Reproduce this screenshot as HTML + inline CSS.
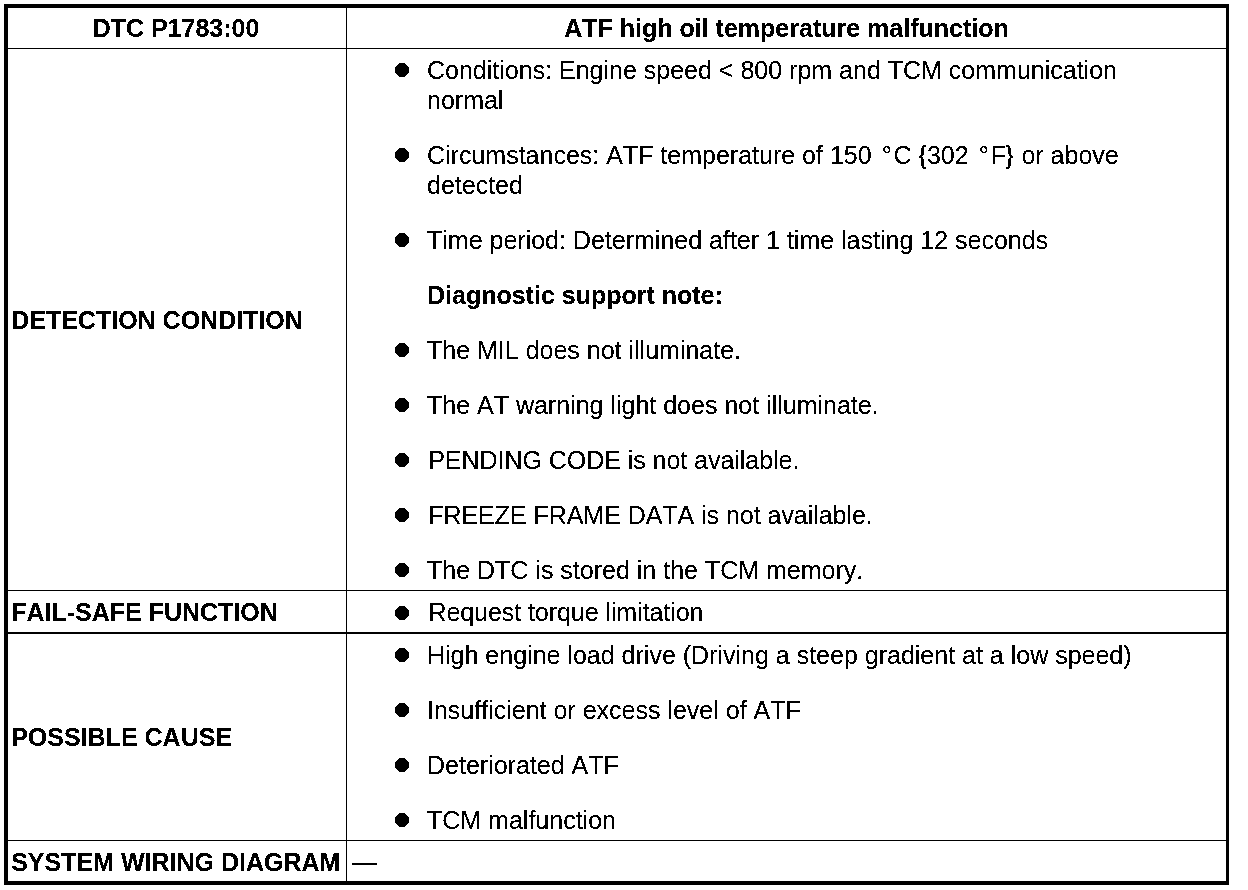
<!DOCTYPE html>
<html lang="en">
<head>
<meta charset="utf-8">
<title>DTC P1783:00</title>
<style>
html,body{margin:0;padding:0;background:#fff;}
body{width:1248px;height:890px;position:relative;overflow:hidden;color:#000;
  font-family:"Liberation Sans",Arial,Helvetica,sans-serif;font-size:25px;line-height:30px;
  font-kerning:none;font-variant-ligatures:none;}
.page{position:absolute;left:0;top:0;width:1248px;height:890px;background:#fff;filter:url(#thr);}
.frame{position:absolute;left:4px;top:4px;width:1218px;height:873px;border-style:solid;border-color:#000;border-width:4px 3px 4px 4px;}
.hl{position:absolute;left:8px;width:1218px;height:1px;background:#000;}
.vl{position:absolute;left:346px;top:8px;width:1px;height:873px;background:#000;}
.cell{position:absolute;margin:0;padding:0;white-space:nowrap;}
.th{font-weight:bold;text-align:center;transform:scaleY(1.055);transform-origin:0 24px;}
.lh{font-weight:bold;left:11.2px;}
ul{list-style:none;margin:0;padding:0;}
li{position:absolute;left:427px;margin:0;padding:0;white-space:nowrap;}
li.b::before{content:"";position:absolute;left:-31.8px;top:8.2px;width:13.6px;height:13.6px;border-radius:50%;background:#000;}
li.n{font-weight:bold;}
.ln{display:block;height:30px;}
.s1{margin-left:1.2px;letter-spacing:-0.04px;}
.s2{margin-left:1.4px;letter-spacing:-0.06px;}
li.fs::before{top:9.2px;}
.d1{margin:0 1.9px 0 3.15px;}
.d2{margin:0 1.9px 0 3.25px;}
.cb{margin:0 1px 0 -0.9px;}
</style>
</head>
<body>
<svg width="0" height="0" style="position:absolute" aria-hidden="true"><defs><filter id="thr" x="0" y="0" width="100%" height="100%" color-interpolation-filters="sRGB"><feComponentTransfer><feFuncR type="discrete" tableValues="0 0 0 1 1"/><feFuncG type="discrete" tableValues="0 0 0 1 1"/><feFuncB type="discrete" tableValues="0 0 0 1 1"/></feComponentTransfer></filter></defs></svg>
<div class="page">
<div class="frame"></div>
<div class="hl" style="top:48px"></div>
<div class="hl" style="top:590px"></div>
<div class="hl" style="top:632px;height:2px"></div>
<div class="hl" style="top:840px"></div>
<div class="vl"></div>

<div class="cell th" style="left:7px;width:338px;top:13px">DTC P1783:00</div>
<div class="cell th" style="left:347px;width:879px;top:13px">ATF high oil temperature malfunction</div>

<div class="cell lh" style="top:305px">DETECTION CONDITION</div>
<ul>
<li class="b" style="top:55px"><span class="ln">Conditions: Engine speed &lt; 800 rpm and TCM communication</span><span class="ln">normal</span></li>
<li class="b" style="top:140px"><span class="ln">Circumstances: ATF temperature of 150 <span class="dg d1">°</span>C {302 <span class="dg d2">°</span>F<span class="cb">}</span> or above</span><span class="ln">detected</span></li>
<li class="b" style="top:225px"><span class="ln">Time period: Determined after 1 time lasting 12 seconds</span></li>
<li class="n" style="top:280px"><span class="ln">Diagnostic support note:</span></li>
<li class="b" style="top:335px"><span class="ln">The MIL does not illuminate.</span></li>
<li class="b" style="top:390px"><span class="ln">The AT warning light does not illuminate.</span></li>
<li class="b" style="top:445px"><span class="ln s1">PENDING CODE is not available.</span></li>
<li class="b" style="top:500px"><span class="ln s1">FREEZE FRAME DATA is not available.</span></li>
<li class="b" style="top:555px"><span class="ln">The DTC is stored in the TCM memory.</span></li>
</ul>

<div class="cell lh" style="top:597px">FAIL-SAFE FUNCTION</div>
<ul>
<li class="b fs" style="top:597px"><span class="ln s2">Request torque limitation</span></li>
</ul>

<div class="cell lh" style="top:722px">POSSIBLE CAUSE</div>
<ul>
<li class="b" style="top:640px"><span class="ln">High engine load drive (Driving a steep gradient at a low speed)</span></li>
<li class="b" style="top:695px"><span class="ln">Insufficient or excess level of ATF</span></li>
<li class="b" style="top:750px"><span class="ln">Deteriorated ATF</span></li>
<li class="b" style="top:805px"><span class="ln">TCM malfunction</span></li>
</ul>

<div class="cell lh" style="top:847px">SYSTEM WIRING DIAGRAM</div>
<div class="cell" style="left:352px;top:847px">—</div>
</div>
</body>
</html>
